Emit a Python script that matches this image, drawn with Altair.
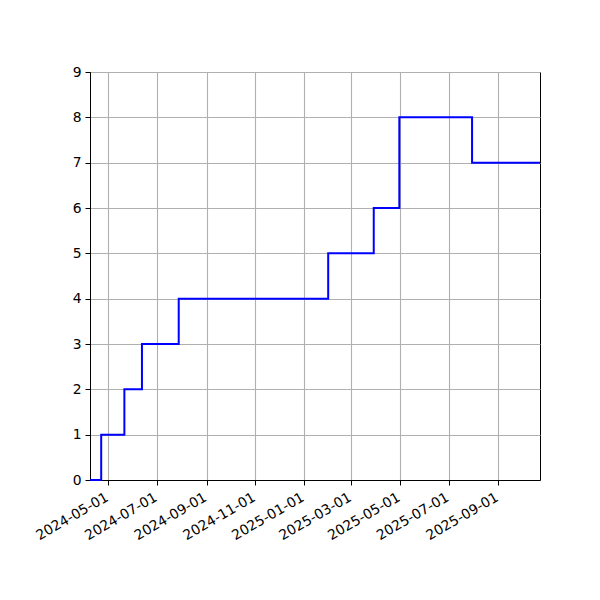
import altair as alt
import pandas as pd

dates = ["2024-04-08", "2024-04-22", "2024-05-21", "2024-06-12", "2024-07-28",
         "2025-01-31", "2025-03-29", "2025-04-30", "2025-07-30", "2025-10-23"]
values = [0, 1, 2, 3, 4, 5, 6, 8, 7, 7]
tick_dates = ["2024-05-01", "2024-07-01", "2024-09-01", "2024-11-01", "2025-01-01",
              "2025-03-01", "2025-05-01", "2025-07-01", "2025-09-01"]
y_ticks = list(range(10))

df = pd.DataFrame({"date": dates, "value": values})

def dt(s):
    y, m, d = map(int, s.split("-"))
    return alt.DateTime(year=y, month=m, date=d, utc=True)

chart = alt.Chart(df).mark_line(
    interpolate="step-after", color="#0000ff", strokeWidth=2
).encode(
    x=alt.X("date:T",
            scale=alt.Scale(type="utc", domain=[dt(dates[0]), dt(dates[-1])], nice=False),
            axis=alt.Axis(title=None, values=[dt(s) for s in tick_dates],
                          format="%Y-%m-%d", labelAngle=-30, labelAlign="right",
                          labelBaseline="top", labelPadding=5, labelOffset=-5,
                          labelOverlap=False, labelBound=False, labelFlush=False)),
    y=alt.Y("value:Q",
            scale=alt.Scale(domain=[0, 9], nice=False),
            axis=alt.Axis(title=None, values=y_ticks, format="d", labelPadding=4,
                          labelOverlap=False)),
).properties(
    width=450, height=408,
    autosize=alt.AutoSizeParams(type="none"),
    padding={"left": 82, "top": 64, "right": 52, "bottom": 112},
).configure_view(
    stroke="black", strokeWidth=1
).configure_axis(
    grid=True, gridColor="#b0b0b0", gridWidth=1.1,
    domainColor="black", domainWidth=1,
    tickColor="black", tickSize=5, tickWidth=1,
    labelColor="black", labelFont="DejaVu Sans", labelFontSize=13.9,
)

chart.save("out.html", embed_options={"renderer": "svg", "actions": False})
